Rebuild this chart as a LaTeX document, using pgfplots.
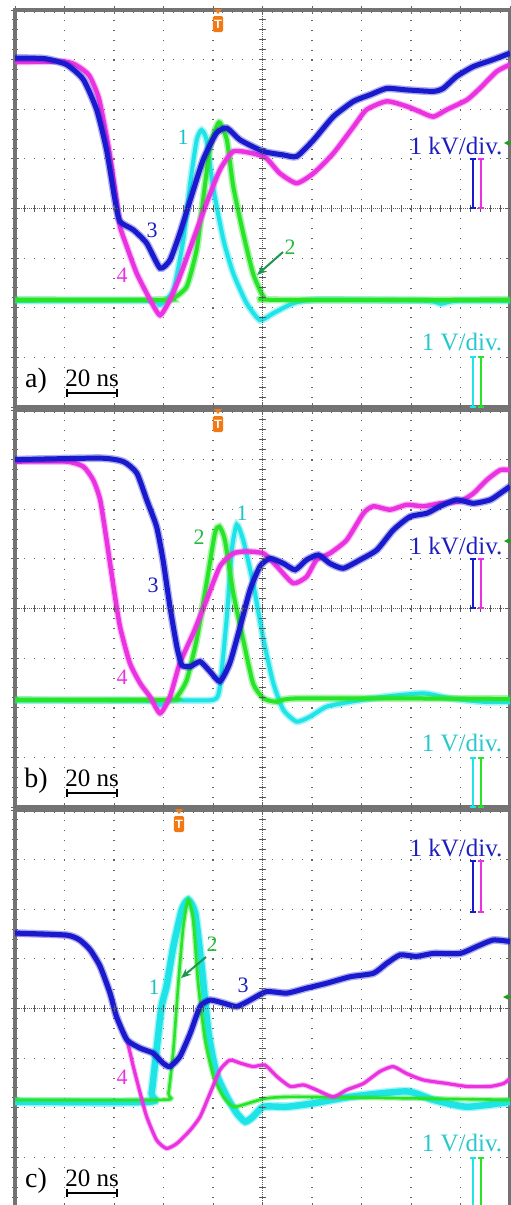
\documentclass[border=0pt]{standalone}
\usepackage{fontspec}
\setmainfont{Liberation Serif}
\usepackage{pgfplots}
\pgfplotsset{compat=1.18}
\usepackage{pgfplotstable}
\usetikzlibrary{arrows.meta}

\definecolor{chBlue}{RGB}{25,25,205}
\definecolor{chMag}{RGB}{235,50,225}
\definecolor{chCyan}{RGB}{30,228,232}
\definecolor{chGreen}{RGB}{40,228,40}
\definecolor{txBlue}{RGB}{30,30,190}
\definecolor{txCyan}{RGB}{40,200,205}
\definecolor{txGreen}{RGB}{40,185,60}
\definecolor{arGreen}{RGB}{30,150,80}
\definecolor{trigOrange}{RGB}{242,120,20}

% ---------------- panel a ----------------
\pgfplotstableread{
x y
0 7.03
0.6 7.02
1.04 6.9
1.38 6.6
1.65 5.99
1.85 5.18
2.02 4.17
2.12 3.74
2.39 3.57
2.66 3.3
2.93 2.8
3.13 2.96
3.33 3.5
3.54 4.17
3.8 4.98
4.07 5.52
4.28 5.62
4.55 5.38
5.02 5.15
5.42 5.08
5.69 5.05
6.03 5.38
6.43 5.85
6.84 6.16
7.17 6.29
7.51 6.42
7.91 6.39
8.45 6.36
8.65 6.42
8.92 6.66
9.26 6.86
9.66 7.0
10 7.13
}\taBlue
\pgfplotstableread{
x y
0 6.95
1.0 6.96
1.25 6.88
1.5 6.68
1.7 6.2
1.9 5.18
2.05 4.17
2.12 3.64
2.26 3.23
2.46 2.69
2.73 2.16
2.93 1.85
3.13 2.16
3.33 2.63
3.6 3.37
3.87 4.11
4.14 4.78
4.41 5.15
4.81 5.11
5.08 5.01
5.35 4.71
5.69 4.51
6.03 4.71
6.43 5.11
6.84 5.65
7.1 5.99
7.51 6.16
7.91 6.06
8.18 5.95
8.45 5.85
8.72 5.99
9.13 6.19
9.39 6.42
9.73 6.76
10 6.9
}\taMag
\pgfplotstableread{
x y
0 2.14
2.7 2.14
2.93 2.06
3.2 2.36
3.4 3.37
3.54 4.51
3.67 5.38
3.77 5.58
3.87 5.38
4.0 4.44
4.21 3.37
4.41 2.69
4.68 2.09
4.95 1.75
5.22 1.89
5.62 2.09
6.09 2.16
8.3 2.14
8.6 2.08
8.9 2.14
10 2.14
}\taCyan
\pgfplotstableread{
x y
0 2.16
3.0 2.16
3.2 2.19
3.47 2.43
3.67 3.17
3.8 4.17
3.94 5.25
4.07 5.65
4.14 5.73
4.28 5.38
4.41 4.44
4.61 3.5
4.81 2.69
5.02 2.22
5.22 2.16
10 2.16
}\taGreen

% ---------------- panel b ----------------
\pgfplotstableread{
x y
0 7.0
1.72 7.03
2.19 6.96
2.46 6.73
2.66 6.19
2.86 5.65
2.99 4.98
3.13 4.04
3.27 3.23
3.37 2.86
3.54 2.83
3.74 2.93
3.94 2.73
4.14 2.53
4.34 2.9
4.55 3.64
4.75 4.38
4.95 4.85
5.15 5.01
5.42 4.91
5.66 4.78
5.89 4.98
6.13 5.08
6.36 4.91
6.63 4.81
6.97 4.98
7.31 5.18
7.64 5.58
7.98 5.85
8.32 5.92
8.59 6.06
8.92 6.19
9.26 6.12
9.6 6.19
9.8 6.32
10 6.46
}\tbBlue
\pgfplotstableread{
x y
0 6.96
1.04 6.96
1.38 6.86
1.58 6.59
1.72 6.19
1.85 5.38
1.99 4.44
2.12 3.64
2.32 2.9
2.53 2.49
2.73 2.22
2.93 1.89
3.13 2.22
3.33 2.9
3.6 3.5
3.87 4.17
4.14 4.85
4.41 5.11
4.68 5.15
5.02 5.11
5.29 4.85
5.62 4.51
5.89 4.64
6.09 4.98
6.36 5.11
6.7 5.38
7.04 5.92
7.24 6.06
7.58 5.99
7.91 6.09
8.25 6.06
8.59 6.12
8.99 6.16
9.26 6.32
9.53 6.59
9.8 6.79
10 6.79
}\tbMag
\pgfplotstableread{
x y
0 2.15
2.7 2.14
2.93 2.06
3.15 2.15
4.01 2.16
4.14 2.43
4.28 3.84
4.38 5.18
4.48 5.69
4.61 5.38
4.81 4.51
5.02 3.37
5.22 2.49
5.42 1.96
5.69 1.72
5.96 1.82
6.29 2.02
6.77 2.12
7.44 2.22
8.25 2.29
8.79 2.19
9.46 2.12
10 2.12
}\tbCyan
\pgfplotstableread{
x y
0 2.16
3.1 2.16
3.27 2.22
3.47 2.56
3.67 3.37
3.87 4.51
4.04 5.52
4.13 5.65
4.24 5.38
4.41 4.31
4.61 3.37
4.81 2.49
5.02 2.19
5.29 2.12
5.76 2.19
10 2.18
}\tbGreen

% ---------------- panel c ----------------
\pgfplotstableread{
x y
0 5.52
1.04 5.48
1.31 5.38
1.52 5.18
1.72 4.85
1.92 4.31
2.05 3.84
2.26 3.37
2.53 3.2
2.79 3.1
2.99 2.9
3.13 2.83
3.33 3.03
3.54 3.5
3.74 4.04
3.94 4.17
4.21 4.11
4.48 4.04
4.75 4.17
5.08 4.34
5.49 4.31
5.89 4.41
6.3 4.51
6.77 4.64
7.24 4.71
7.51 4.91
7.78 5.08
8.11 5.05
8.45 5.11
8.99 5.11
9.33 5.25
9.66 5.38
10 5.35
}\tcBlue
\pgfplotstableread{
x y
0 5.5
1.04 5.47
1.31 5.37
1.52 5.17
1.72 4.84
1.92 4.3
2.05 3.83
2.26 3.36
2.39 2.83
2.53 2.29
2.66 1.82
2.86 1.35
3.06 1.18
3.27 1.28
3.54 1.55
3.74 1.82
3.94 2.29
4.14 2.76
4.34 2.96
4.55 2.9
4.81 2.83
5.05 2.86
5.29 2.63
5.56 2.43
5.83 2.46
6.09 2.36
6.43 2.22
6.7 2.36
7.04 2.49
7.37 2.73
7.64 2.83
7.91 2.69
8.25 2.56
8.72 2.49
9.13 2.43
9.6 2.43
9.87 2.49
10 2.59
}\tcMag
\pgfplotstableread{
x y
0 2.12
2.7 2.12
2.76 2.29
2.86 3.17
2.96 4.04
3.06 4.44
3.2 5.25
3.37 5.99
3.5 6.19
3.64 5.92
3.77 4.85
3.91 3.5
4.07 2.69
4.28 2.22
4.48 1.89
4.65 1.72
4.81 1.82
5.02 2.02
5.49 2.02
6.03 2.09
6.77 2.22
7.91 2.33
8.45 2.16
9.13 2.02
10 2.12
}\tcCyan
\pgfplotstableread{
x y
0 2.16
3.0 2.16
3.1 2.29
3.2 3.17
3.3 4.51
3.4 5.65
3.5 6.19
3.6 5.79
3.7 4.51
3.84 3.37
4.01 2.63
4.21 2.22
4.41 2.02
4.61 2.06
4.81 2.12
5.08 2.19
5.76 2.22
10 2.16
}\tcGreen

\pgfplotsset{
  osc/.style={
    width=247.5pt, height=198.5pt, scale only axis,
    anchor=north west,
    xmin=0, xmax=10, ymin=0, ymax=8,
    xtick={0,...,10}, ytick={0,...,8},
    xticklabels={}, yticklabels={},
    minor x tick num=4, minor y tick num=4,
    grid=major,
    major grid style={draw=black!60, line width=0.55pt, dash pattern=on 0.55pt off 4.4pt, dash phase=0.275pt},
    axis line style={draw=black!55, line width=1.6pt},
    tick style={draw=black!60, line width=0.5pt},
    tick align=center,
    major tick length=4pt, minor tick length=2.5pt,
  },
  fz/.style={color=#1, line width=3.9pt, opacity=0.35, smooth, tension=0.35, no markers},
  cr/.style={color=#1, line width=2.5pt, smooth, tension=0.35, no markers},
  fzs/.style={color=#1, line width=3.6pt, opacity=0.4, smooth, tension=0.35, no markers},
  crs/.style={color=#1, line width=2.0pt, smooth, tension=0.35, no markers},
}

\newcommand{\centerlines}[1]{%
  \draw[black!65, line width=0.5pt, dash pattern=on 0.5pt off 0.5pt] (262.5,#1) -- (262.5,#1+397);
  \draw[black!65, line width=0.5pt, dash pattern=on 0.5pt off 0.5pt] (15,#1+198.5) -- (510,#1+198.5);
  \foreach \i in {1,...,49} {\draw[black!65, line width=0.5pt] (15+\i*9.9,#1+195) -- (15+\i*9.9,#1+202);}
  \foreach \j in {1,...,39} {\draw[black!65, line width=0.5pt] (259,#1+\j*9.925) -- (266,#1+\j*9.925);}
}
\newcommand{\trig}[2]{%
  \fill[trigOrange] (#1-4,#2-1) -- (#1+4,#2-1) -- (#1,#2+4) -- cycle;
  \node[fill=trigOrange, rounded corners=0.8pt, minimum width=5.2pt, minimum height=8pt, inner sep=0pt, text=white, font=\sffamily\bfseries\fontsize{6}{6}\selectfont] at (#1,#2+14) {T};
}
\newcommand{\ibar}[4]{% x, y1, y2, color
  \draw[#4, line width=1pt] (#1,#2) -- (#1,#3);
  \draw[#4, line width=0.8pt] (#1-3,#2) -- (#1+3,#2);
  \draw[#4, line width=0.8pt] (#1-3,#3) -- (#1+3,#3);
}
\newcommand{\scalebar}[2]{% letter, top offset
  \node[font=\fontsize{14}{16}\selectfont, inner sep=0pt] at (36,#2+371) {#1)};
  \node[font=\fontsize{12.5}{15}\selectfont, inner sep=0pt] at (92,#2+368) {20 ns};
  \draw[black, line width=1pt] (67,#2+383) -- (117,#2+383);
  \draw[black, line width=0.8pt] (67,#2+379) -- (67,#2+387);
  \draw[black, line width=0.8pt] (117,#2+379) -- (117,#2+387);
}
\newcommand{\divlabels}[4]{% top offset, kV y, kV bar bottom, V y
  \node[text=txBlue, font=\fontsize{12.5}{15}\selectfont, inner sep=0pt] at (456,#2) {1 kV/div.};
  \node[text=txCyan, font=\fontsize{12.5}{15}\selectfont, inner sep=0pt] at (462,#4) {1 V/div.};
  \ibar{473}{#2+13}{#3}{chBlue}
  \ibar{481}{#2+13}{#3}{chMag}
  \ibar{473}{#4+15}{#1+397}{chCyan}
  \ibar{481}{#4+15}{#1+397}{chGreen}
}

\begin{document}
\begin{tikzpicture}
\useasboundingbox (0,0) rectangle (255pt,-602.5pt);

% ---------- a ----------
\begin{axis}[osc, at={(7.5pt,-5pt)}]
\addplot[fzs=chCyan] table {\taCyan};
\addplot[crs=chCyan] table {\taCyan};
\addplot[fzs=chGreen] table {\taGreen};
\addplot[crs=chGreen] table {\taGreen};
\addplot[fz=chMag, line width=3.4pt] table {\taMag};
\addplot[cr=chMag, line width=2.2pt] table {\taMag};
\addplot[fz=chBlue] table {\taBlue};
\addplot[cr=chBlue] table {\taBlue};
\end{axis}

% ---------- b ----------
\begin{axis}[osc, at={(7.5pt,-205pt)}]
\addplot[fzs=chCyan] table {\tbCyan};
\addplot[crs=chCyan] table {\tbCyan};
\addplot[fzs=chGreen] table {\tbGreen};
\addplot[crs=chGreen] table {\tbGreen};
\addplot[fz=chMag, line width=3.4pt] table {\tbMag};
\addplot[cr=chMag, line width=2.2pt] table {\tbMag};
\addplot[fz=chBlue] table {\tbBlue};
\addplot[cr=chBlue] table {\tbBlue};
\end{axis}

% ---------- c ----------
\begin{axis}[osc, at={(7.5pt,-405pt)}]
\addplot[fzs=chCyan, line width=4.6pt] table {\tcCyan};
\addplot[crs=chCyan, line width=3.2pt] table {\tcCyan};
\addplot[fzs=chGreen, line width=2.6pt] table {\tcGreen};
\addplot[crs=chGreen, line width=1.3pt] table {\tcGreen};
\addplot[fz=chMag, line width=2.6pt] table {\tcMag};
\addplot[cr=chMag, line width=1.6pt] table {\tcMag};
\addplot[fz=chBlue] table {\tcBlue};
\addplot[cr=chBlue] table {\tcBlue};
\end{axis}

\begin{scope}[x=0.5pt, y=-0.5pt]
\centerlines{10}
\centerlines{410}
\centerlines{810}
\trig{218}{10}
\trig{218}{410}
\trig{179}{810}

% panel a labels
\node[text=chCyan!85!black, font=\fontsize{11}{13}\selectfont, inner sep=0pt] at (183,137) {1};
\node[text=txGreen, font=\fontsize{11}{13}\selectfont, inner sep=0pt] at (290,247) {2};
\draw[arGreen, line width=1pt, -{Stealth[length=5pt,width=4pt]}] (283,252) -- (257,275);
\node[text=txBlue, font=\fontsize{11}{13}\selectfont, inner sep=0pt] at (152,230) {3};
\node[text=chMag, font=\fontsize{11}{13}\selectfont, inner sep=0pt] at (122,275) {4};
\divlabels{10}{146}{208}{342}
\draw[chGreen!70!black, line width=0.8pt, -{Stealth[length=3pt,width=3pt]}] (512,143) -- (504,143);
\scalebar{a}{10}

% panel b labels
\node[text=chCyan!85!black, font=\fontsize{11}{13}\selectfont, inner sep=0pt] at (242,513) {1};
\node[text=txGreen, font=\fontsize{11}{13}\selectfont, inner sep=0pt] at (199,537) {2};
\node[text=txBlue, font=\fontsize{11}{13}\selectfont, inner sep=0pt] at (153,585) {3};
\node[text=chMag, font=\fontsize{11}{13}\selectfont, inner sep=0pt] at (122,677) {4};
\divlabels{410}{546}{608}{743}
\draw[chGreen!70!black, line width=0.8pt, -{Stealth[length=3pt,width=3pt]}] (512,541) -- (504,541);
\scalebar{b}{410}

% panel c labels
\node[text=chCyan!85!black, font=\fontsize{11}{13}\selectfont, inner sep=0pt] at (154,987) {1};
\node[text=txGreen, font=\fontsize{11}{13}\selectfont, inner sep=0pt] at (212,944) {2};
\draw[arGreen, line width=1pt, -{Stealth[length=5pt,width=4pt]}] (206,957) -- (181,978);
\node[text=txBlue, font=\fontsize{11}{13}\selectfont, inner sep=0pt] at (243,985) {3};
\node[text=chMag, font=\fontsize{11}{13}\selectfont, inner sep=0pt] at (122,1077) {4};
\divlabels{810}{848}{912}{1143}
\draw[chGreen!70!black, line width=0.8pt, -{Stealth[length=3pt,width=3pt]}] (511,997) -- (503,997);
\scalebar{c}{810}
\end{scope}
\end{tikzpicture}
\end{document}
